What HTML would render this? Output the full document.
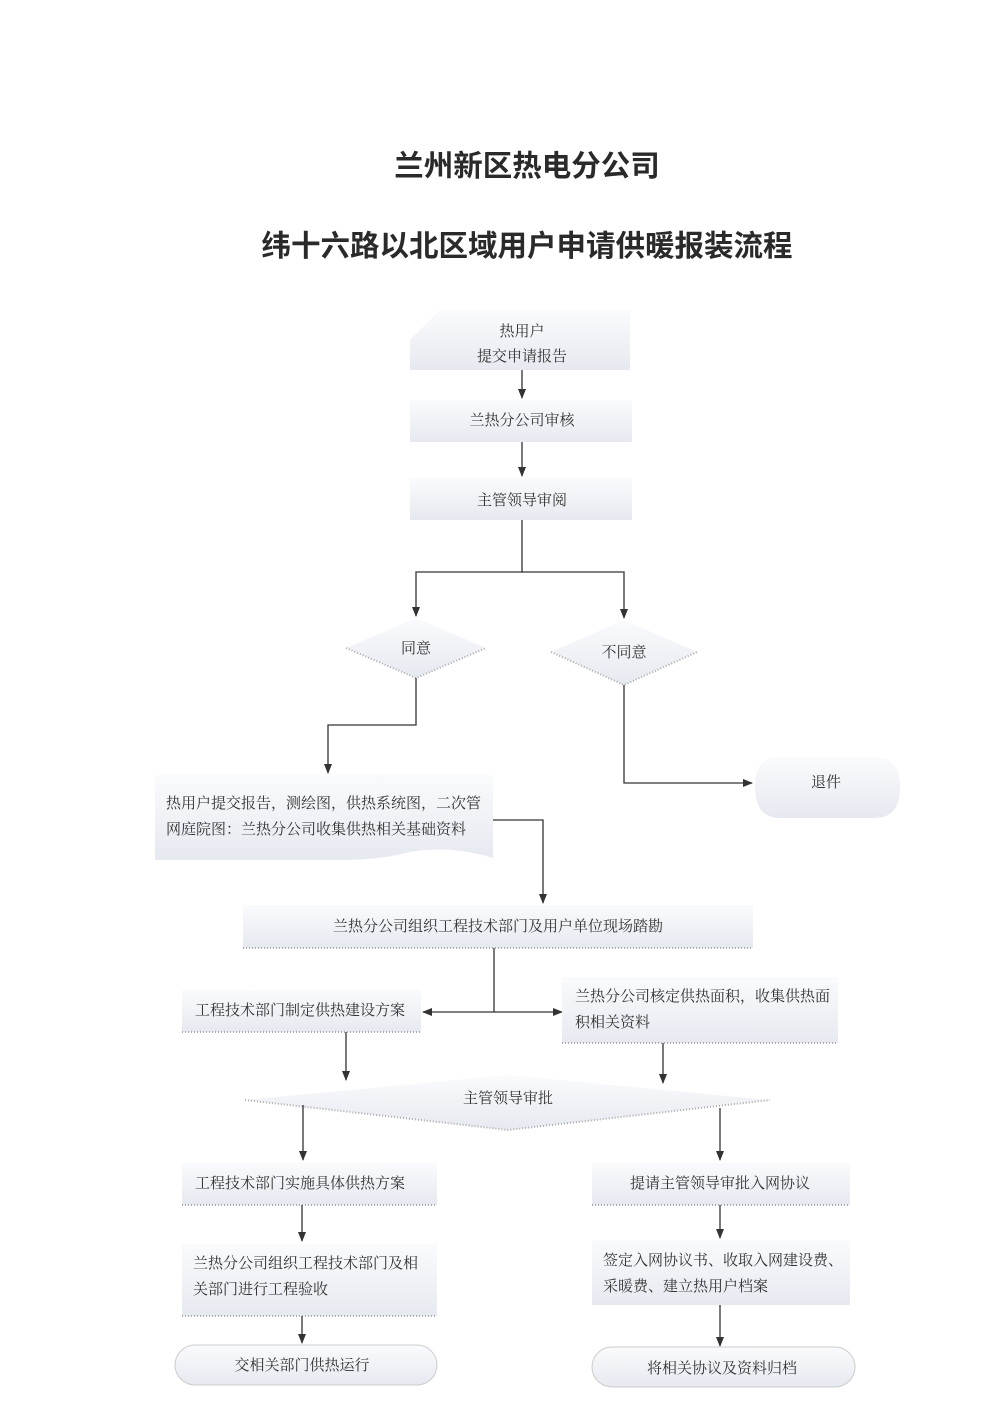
<!DOCTYPE html>
<html><head><meta charset="utf-8"><style>
html,body{margin:0;padding:0;background:#fff;}
svg{display:block;}
text{font-family:"Liberation Serif","Noto Serif CJK SC",serif;font-size:15px;fill:#333;}
.t{font-family:"Liberation Sans","Noto Sans CJK SC",sans-serif;font-size:29.5px;font-weight:bold;fill:#2a2a2a;}
.d{stroke:#aaa;stroke-width:2;stroke-dasharray:1 2;fill:none;}
.l{stroke:#333;stroke-width:1.3;fill:none;}
</style></head><body>
<svg width="1000" height="1414" viewBox="0 0 1000 1414" xmlns="http://www.w3.org/2000/svg">
<defs>
<marker id="a" markerWidth="10" markerHeight="10" refX="9" refY="5" orient="auto" markerUnits="userSpaceOnUse"><path d="M0,1 L10,5 L0,9z" fill="#333"/></marker>
<linearGradient id="g" x1="0" y1="0" x2="0" y2="1"><stop offset="0" stop-color="#fafbfd"/><stop offset="1" stop-color="#e6e9f0"/></linearGradient>
</defs>
<text class="t" x="527" y="176" text-anchor="middle">兰州新区热电分公司</text>
<text class="t" x="527" y="256" text-anchor="middle">纬十六路以北区域用户申请供暖报装流程</text>

<path d="M410,340 L440,310 L630,310 L630,370 L410,370 Z" fill="url(#g)"/>
<text x="522" y="336" text-anchor="middle">热用户</text>
<text x="522" y="361" text-anchor="middle">提交申请报告</text>
<line class="l" x1="522" y1="370" x2="522" y2="398" marker-end="url(#a)"/>
<rect x="410" y="400" width="222" height="42" fill="url(#g)"/>
<text x="522" y="425" text-anchor="middle">兰热分公司审核</text>
<line class="l" x1="522" y1="442" x2="522" y2="476" marker-end="url(#a)"/>
<rect x="410" y="478" width="222" height="42" fill="url(#g)"/>
<text x="522" y="505" text-anchor="middle">主管领导审阅</text>
<polyline class="l" points="522,520 522,572 416,572 416,616" marker-end="url(#a)"/>
<polyline class="l" points="522,572 624,572 624,618" marker-end="url(#a)"/>

<polygon points="416,618 486,648 416,678 346,648" fill="url(#g)"/>
<polyline class="d" points="346,648 416,678 486,648"/>
<text x="416" y="653" text-anchor="middle">同意</text>
<polygon points="624,620 697,652 624,685 551,652" fill="url(#g)"/>
<polyline class="d" points="551,652 624,685 697,652"/>
<text x="624" y="657" text-anchor="middle">不同意</text>

<polyline class="l" points="416,678 416,725 328,725 328,773" marker-end="url(#a)"/>
<polyline class="l" points="624,685 624,783 752,783" marker-end="url(#a)"/>

<path d="M780,757 L875,757 Q900,757 900,787 Q900,818 875,818 L780,818 Q755,818 755,787 Q755,757 780,757Z" fill="url(#g)"/>
<text x="826" y="787" text-anchor="middle">退件</text>

<path d="M155,775 L493,775 L493,858 Q450,845 410,852 Q380,860 340,860 L155,860 Z" fill="url(#g)"/>
<text x="166" y="808">热用户提交报告，测绘图，供热系统图，二次管</text>
<text x="166" y="834">网庭院图：兰热分公司收集供热相关基础资料</text>
<polyline class="l" points="493,820 543,820 543,903" marker-end="url(#a)"/>

<rect x="243" y="905" width="510" height="43" fill="url(#g)"/>
<line class="d" x1="243" y1="948" x2="753" y2="948"/>
<text x="498" y="931" text-anchor="middle">兰热分公司组织工程技术部门及用户单位现场踏勘</text>
<line class="l" x1="494" y1="948" x2="494" y2="1012"/>
<line class="l" x1="494" y1="1012" x2="423" y2="1012" marker-end="url(#a)"/>
<line class="l" x1="494" y1="1012" x2="562" y2="1012" marker-end="url(#a)"/>

<rect x="182" y="990" width="239" height="42" fill="url(#g)"/>
<line class="d" x1="182" y1="1032" x2="421" y2="1032"/>
<text x="195" y="1015">工程技术部门制定供热建设方案</text>
<rect x="562" y="977" width="276" height="66" fill="url(#g)"/>
<line class="d" x1="562" y1="1043" x2="838" y2="1043"/>
<text x="575" y="1001">兰热分公司核定供热面积，收集供热面</text>
<text x="575" y="1027">积相关资料</text>
<line class="l" x1="346" y1="1032" x2="346" y2="1080" marker-end="url(#a)"/>
<line class="l" x1="663" y1="1043" x2="663" y2="1083" marker-end="url(#a)"/>

<polygon points="508,1075 770,1100 508,1130 245,1100" fill="url(#g)"/>
<polyline class="d" points="245,1100 508,1130 770,1100"/>
<text x="508" y="1103" text-anchor="middle">主管领导审批</text>
<line class="l" x1="303" y1="1105" x2="303" y2="1160" marker-end="url(#a)"/>
<line class="l" x1="720" y1="1108" x2="720" y2="1160" marker-end="url(#a)"/>

<rect x="182" y="1163" width="255" height="42" fill="url(#g)"/>
<line class="d" x1="182" y1="1205" x2="437" y2="1205"/>
<text x="195" y="1188">工程技术部门实施具体供热方案</text>
<rect x="592" y="1163" width="258" height="42" fill="url(#g)"/>
<line class="d" x1="592" y1="1205" x2="850" y2="1205"/>
<text x="720" y="1188" text-anchor="middle">提请主管领导审批入网协议</text>
<line class="l" x1="302" y1="1205" x2="302" y2="1241" marker-end="url(#a)"/>
<line class="l" x1="720" y1="1205" x2="720" y2="1238" marker-end="url(#a)"/>

<rect x="182" y="1244" width="255" height="72" fill="url(#g)"/>
<line class="d" x1="182" y1="1316" x2="437" y2="1316"/>
<text x="193" y="1268">兰热分公司组织工程技术部门及相</text>
<text x="193" y="1294">关部门进行工程验收</text>
<rect x="592" y="1240" width="258" height="65" fill="url(#g)"/>
<text x="603" y="1265">签定入网协议书、收取入网建设费、</text>
<text x="603" y="1291">采暖费、建立热用户档案</text>
<line class="l" x1="302" y1="1316" x2="302" y2="1343" marker-end="url(#a)"/>
<line class="l" x1="720" y1="1305" x2="720" y2="1346" marker-end="url(#a)"/>

<rect x="175" y="1345" width="262" height="40" rx="20" fill="url(#g)" stroke="#ccc"/>
<text x="302" y="1370" text-anchor="middle">交相关部门供热运行</text>
<rect x="592" y="1347" width="263" height="40" rx="20" fill="url(#g)" stroke="#ccc"/>
<text x="722" y="1373" text-anchor="middle">将相关协议及资料归档</text>
</svg>
</body></html>
